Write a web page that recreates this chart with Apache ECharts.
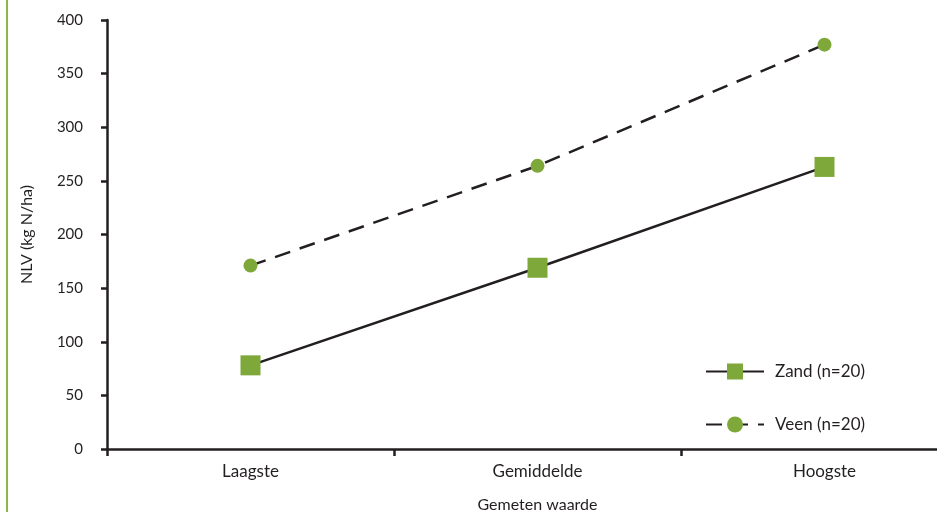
<!DOCTYPE html>
<html><head><meta charset="utf-8">
<script src="https://cdn.jsdelivr.net/npm/echarts@6/dist/echarts.min.js"></script>
<style>html,body{margin:0;padding:0;background:#fff}#c{width:937px;height:512px}</style>
</head><body><div id="c"></div>
<script>
const categories = ['Laagste', 'Gemiddelde', 'Hoogste'];
const zand = [78, 169, 263];
const veen = [171, 264, 377];
const yTicks = [0, 50, 100, 150, 200, 250, 300, 350, 400];
const seriesNames = ['Zand (n=20)', 'Veen (n=20)'];

const green = '#7ea83a';
const ink = '#231f20';
const font = 'Lato';

const chart = echarts.init(document.getElementById('c'));
chart.setOption({
  animation: false,
  graphic: [{type: 'rect', shape: {x: 6, y: 0, width: 2, height: 512}, style: {fill: '#8db54e'}}],
  grid: {left: 107, top: 20, width: 861, height: 429, outerBoundsMode: 'none', containLabel: false},
  legend: {
    orient: 'vertical', left: 700, top: 358, itemGap: 36,
    itemWidth: 58, itemHeight: 20,
    textStyle: {fontFamily: font, fontSize: 17, color: ink, padding: [0, 0, 0, 6]},
    data: seriesNames
  },
  xAxis: {
    type: 'category', data: categories,
    name: 'Gemeten waarde', nameLocation: 'middle', nameGap: 48,
    nameTextStyle: {fontFamily: font, fontSize: 16, color: ink},
    axisLine: {lineStyle: {color: ink, width: 2.5}},
    axisTick: {show: true, length: 7, lineStyle: {color: ink, width: 2.5}},
    axisLabel: {fontFamily: font, fontSize: 17, color: ink, margin: 14}
  },
  yAxis: {
    type: 'value', min: 0, max: 400, interval: 50,
    name: 'NLV (kg N/ha)', nameLocation: 'middle', nameGap: 72,
    nameTextStyle: {fontFamily: font, fontSize: 16, color: ink},
    axisLine: {show: true, lineStyle: {color: ink, width: 2.5}},
    axisTick: {show: true, length: 6, lineStyle: {color: ink, width: 2.5}},
    axisLabel: {fontFamily: font, fontSize: 15, color: ink, margin: 24,
      formatter: v => yTicks.includes(v) ? String(v) : ''},
    splitLine: {show: false}
  },
  series: [
    {name: seriesNames[0], type: 'line', data: zand, symbol: 'rect', symbolSize: 20,
     itemStyle: {color: green}, lineStyle: {color: ink, width: 2.5}},
    {name: seriesNames[1], type: 'line', data: veen, symbol: 'circle', symbolSize: 14,
     itemStyle: {color: green}, lineStyle: {color: ink, width: 2.5, type: [16, 10]}}
  ]
});
</script></body></html>
